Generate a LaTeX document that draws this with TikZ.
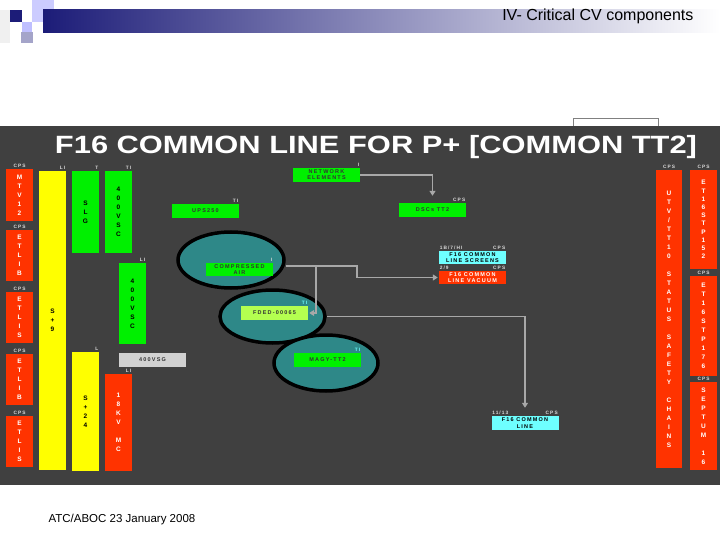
\documentclass[tikz,border=0pt]{standalone}
\usepackage{fontspec}
\setmainfont{Liberation Sans}
\newfontfamily\panelfont{Liberation Sans}[LetterSpace=22]
\usetikzlibrary{shapes.geometric, arrows.meta, positioning}

\definecolor{panelgray}{RGB}{64,64,64}
\definecolor{cpsred}{RGB}{255,51,0}
\definecolor{plcgreen}{RGB}{0,240,0}
\definecolor{psyellow}{RGB}{255,255,0}
\definecolor{pipecyan}{RGB}{110,255,255}
\definecolor{cvteal}{RGB}{46,136,136}
\definecolor{fdedgreen}{RGB}{180,255,80}
\definecolor{pipegray}{RGB}{168,168,168}
\definecolor{slidenavy}{RGB}{28,28,120}

\begin{document}
\begin{tikzpicture}[
  x=1pt, y=-1pt,
  cell/.style={rectangle, inner sep=0pt, align=center,
               font=\panelfont\fontsize{6.5}{9}\selectfont\bfseries},
  column/.style={cell, minimum width=27pt},
  cpscol/.style={column, fill=cpsred, text=white},
  plccol/.style={column, fill=plcgreen, text=black},
  pscol/.style={column, fill=psyellow, text=black},
  tag/.style={cell, minimum width=67pt, minimum height=14pt,
              font=\panelfont\fontsize{5.5}{6.2}\selectfont\bfseries},
  plctag/.style={tag, fill=plcgreen, text=black!80},
  cyantag/.style={tag, fill=pipecyan, text=black},
  redtag/.style={tag, fill=cpsred, text=white},
  cvell/.style={ellipse, draw=black, line width=3.5pt, fill=cvteal, inner sep=0pt},
  lbl/.style={font=\panelfont\fontsize{4.8}{5}\selectfont\bfseries, text=white!85!black, inner sep=0.8pt},
  pipe/.style={draw=pipegray, line width=1.5pt, -{Triangle[length=5pt,width=6pt]}},
]
\useasboundingbox (0,0) rectangle (720,540);
\fill[white] (0,0) rectangle (720,540);

%% Slide header
\fill[black!6] (0,10) rectangle (10,43);
\fill[blue!20!white] (32,0) rectangle (54,22);
\fill[slidenavy!40!white] (21,32) rectangle (33,43);
\shade[left color=slidenavy, right color=white] (43,10) rectangle (720,33);
\fill[slidenavy] (10,10) rectangle (22,22);
\fill[blue!25!white] (22,22) rectangle (32,32);
\node[anchor=base east, font=\fontsize{16}{16}\selectfont] (slidetitle) at (697,21) {IV- Critical CV components};

%% Dark panel
\draw[gray, line width=1pt] (573,119) rectangle (658,140);
\fill[panelgray] (0,126) rectangle (720,485);
\node[text=white, font=\fontsize{25}{25}\selectfont\bfseries] (paneltitle) at (376,147)
  {\resizebox{642pt}{\height}{F16 COMMON LINE FOR P+ [COMMON TT2]}};

%% Left CPS columns
\node[cpscol, minimum height=52pt, label={[lbl]north:CPS}] (cpsa) at (19.5,195)   {M\\T\\V\\1\\2};
\node[cpscol, minimum height=51pt, label={[lbl]north:CPS}] (cpsb) at (19.5,255.5) {E\\T\\L\\I\\B};
\node[cpscol, minimum height=51pt, label={[lbl]north:CPS}] (cpsc) at (19.5,317.5) {E\\T\\L\\I\\S};
\node[cpscol, minimum height=51pt, label={[lbl]north:CPS}] (cpsd) at (19.5,379.5) {E\\T\\L\\I\\B};
\node[cpscol, minimum height=51pt, label={[lbl]north:CPS}] (cpse) at (19.5,441.5) {E\\T\\L\\I\\S};

%% Power supplies and PLC columns
\node[pscol, minimum height=299pt, label={[lbl, anchor=south east]north east:LI}] (psnine) at (52.5,320.5) {S\\+\\9};
\node[plccol, minimum height=82pt, label={[lbl, anchor=south east]north east:T}] (slg) at (85.5,212) {S\\L\\G};
\node[plccol, minimum height=82pt, label={[lbl, anchor=south east]north east:TI}] (vsca) at (118.5,212) {4\\0\\0\\V\\S\\C};
\node[plccol, minimum height=81pt, label={[lbl, anchor=south east]north east:LI}] (vscb) at (132.5,303.5) {4\\0\\0\\V\\S\\C};
\node[pscol, minimum height=119pt, label={[lbl, anchor=south east]north east:L}] (pstwf) at (85.5,411.5) {S\\+\\2\\4};
\node[cpscol, minimum height=97pt, label={[lbl, anchor=south east]north east:LI}] (ekv) at (118.5,422.5) {1\\8\\K\\V\\~\\M\\C};
\node[tag, fill=black!18, text=black!80] (vsg) at (152.5,360) {400VSG};

%% Green tags
\node[plctag, label={[lbl, anchor=south east]north east:TI}] (ups) at (205.5,211) {UPS250};
\node[plctag, label={[lbl, anchor=south east]north east:I}] (net) at (326.5,175) {NETWORK\\ELEMENTS};
\node[plctag, label={[lbl, anchor=south east]north east:CPS}] (dsc) at (432.5,210) {DSCs TT2};

%% Cryo valve groups
\node[cvell, minimum width=106pt, minimum height=56pt] (cairell) at (231,260) {};
\node[cvell, minimum width=105pt, minimum height=53pt] (fdedell) at (272.5,316.5) {};
\node[cvell, minimum width=104pt, minimum height=56pt] (magyell) at (326,363) {};
\node[plctag, minimum height=13pt, label={[lbl, anchor=south east]north east:I}] (cair) at (239.5,269.5) {COMPRESSED\\AIR};
\node[tag, fill=fdedgreen, text=black!80, label={[lbl, text=pipecyan, anchor=south east]north east:TI}] (fded) at (274.5,313) {FDED-00065};
\node[plctag, label={[lbl, text=pipecyan, anchor=south east]north east:TI}] (magy) at (327.5,360) {MAGY-TT2};

%% F16 common line tags
\node[cyantag, minimum height=13pt, label={[lbl, anchor=south west]north west:1B/7/HI},
      label={[lbl, anchor=south east]north east:CPS}] (scr) at (472.5,257.5) {F16 COMMON\\LINE SCREENS};
\node[redtag, minimum height=13pt, label={[lbl, anchor=south west]north west:2/9},
      label={[lbl, anchor=south east]north east:CPS}] (vac) at (472.5,277.5) {F16 COMMON\\LINE VACUUM};
\node[cyantag, label={[lbl, anchor=south west]north west:11/13},
      label={[lbl, anchor=south east]north east:CPS}] (cline) at (525,423) {F16 COMMON\\LINE};

%% Right CPS columns
\node[cpscol, minimum width=26pt, minimum height=298pt, label={[lbl]north:CPS}] (chains) at (669,319)
  {U\\T\\V\\/\\T\\T\\1\\0\\~\\S\\T\\A\\T\\U\\S\\~\\S\\A\\F\\E\\T\\Y\\~\\C\\H\\A\\I\\N\\S};
\node[cpscol, minimum height=99pt, label={[lbl]north:CPS},
      font=\panelfont\fontsize{6.5}{8.2}\selectfont\bfseries] (stpa) at (703.5,219.5) {E\\T\\1\\6\\S\\T\\P\\1\\5\\2};
\node[cpscol, minimum height=100pt, label={[lbl]north:CPS}] (stpb) at (703.5,326) {E\\T\\1\\6\\S\\T\\P\\1\\7\\6};
\node[cpscol, minimum height=88pt, label={[lbl]north:CPS}] (septum) at (703.5,426) {S\\E\\P\\T\\U\\M\\~\\1\\6};

%% Connections
\coordinate (cairsplit) at (316,266);
\coordinate (cairjoin)  at (357,266);
\draw[pipe, shorten >=7pt] (net.east) -| (dsc.north);
\draw[pipe, shorten >=1pt] (cairell.east |- cairjoin) -- (cairjoin) |- (vac.west);
\draw[pipe, shorten >=1pt] (cairsplit) |- (fded.east);
\draw[pipe, shorten >=8pt] (fdedell.east) -| (cline.north);

%% Footer
\node[anchor=base west, font=\fontsize{11.5}{12}\selectfont] (footer) at (45,522) {ATC/ABOC 23 January 2008};
\end{tikzpicture}
\end{document}
